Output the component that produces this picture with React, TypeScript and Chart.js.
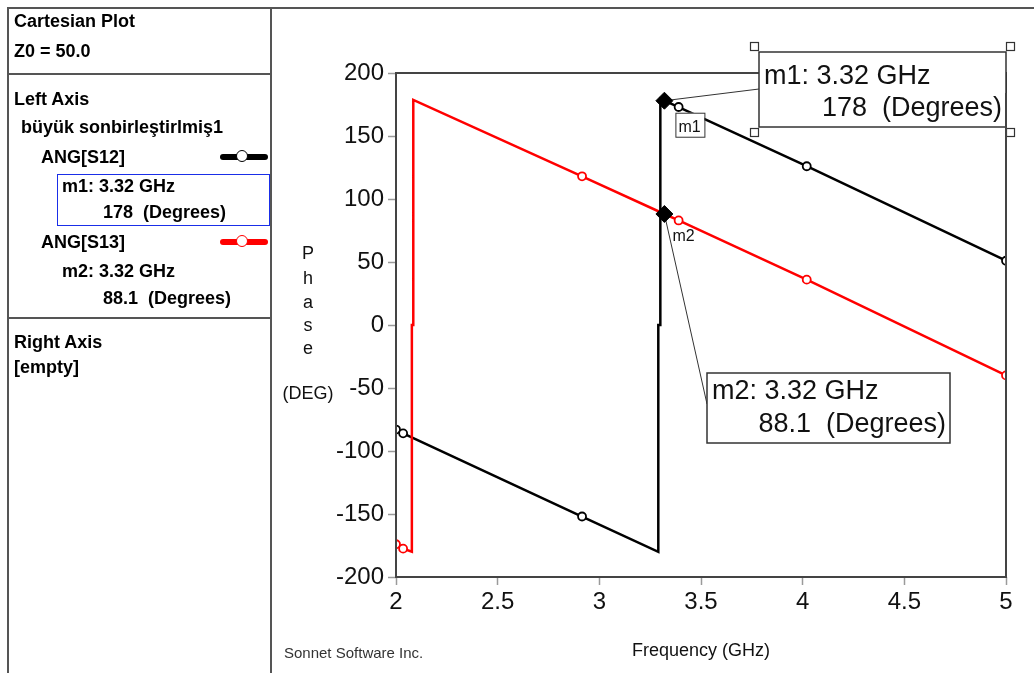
import React, { useEffect, useRef } from "react";
import { Chart, registerables } from "chart.js";

Chart.register(...registerables);

// ---- data ----
const s12Freq = [2.0, 2.035, 2.915, 3.29, 3.29, 3.3, 3.3, 3.32, 3.39, 4.02, 5.0];
const s12Phase = [-83, -86, -152, -180, 0, 0, 179.5, 178, 173, 126, 51];
const s13Freq = [2.0, 2.035, 2.078, 2.078, 2.085, 2.085, 2.915, 3.32, 3.39, 4.02, 5.0];
const s13Phase = [-174, -177.5, -180, 0, 0, 178.6, 118, 88.1, 83, 36, -40];
const circleFreqs = [2.0, 2.035, 2.915, 3.39, 4.02, 5.0];
const markerNames = ["m1", "m2"];
const markerFreq = [3.32, 3.32];
const markerPhase = [178, 88.1];
const xTickValues = [2, 2.5, 3, 3.5, 4, 4.5, 5];
const yTickValues = [-200, -150, -100, -50, 0, 50, 100, 150, 200];

const FONT = "'Liberation Sans', Arial, sans-serif";

const annotPlugin = {
  id: "annot",
  beforeDatasetsDraw(chart: any) {
    const ctx = chart.ctx;
    const xs = chart.scales.x;
    const ys = chart.scales.y;
    ctx.save();
    ctx.strokeStyle = "#333";
    ctx.lineWidth = 1;
    const m1x = xs.getPixelForValue(markerFreq[0]);
    const m1y = ys.getPixelForValue(markerPhase[0]);
    ctx.beginPath();
    ctx.moveTo(m1x, m1y);
    ctx.lineTo(759, 89);
    ctx.stroke();
    const m2x = xs.getPixelForValue(markerFreq[1]);
    const m2y = ys.getPixelForValue(markerPhase[1]);
    ctx.beginPath();
    ctx.moveTo(m2x, m2y);
    ctx.lineTo(707, 404);
    ctx.stroke();
    ctx.restore();
  },
  afterDatasetsDraw(chart: any) {
    const ctx = chart.ctx;
    const a = chart.chartArea;
    const xs = chart.scales.x;
    const ys = chart.scales.y;
    ctx.save();
    // plot frame
    ctx.strokeStyle = "#444";
    ctx.lineWidth = 2;
    ctx.strokeRect(a.left, a.top, a.right - a.left, a.bottom - a.top);

    // small m1 label box
    const m1x = xs.getPixelForValue(markerFreq[0]);
    const m1y = ys.getPixelForValue(markerPhase[0]);
    ctx.fillStyle = "#fff";
    ctx.fillRect(m1x + 11, m1y + 12, 29, 24);
    ctx.strokeStyle = "#333";
    ctx.lineWidth = 1;
    ctx.strokeRect(m1x + 11.5, m1y + 12.5, 29, 24);
    ctx.fillStyle = "#111";
    ctx.font = `16px ${FONT}`;
    ctx.textBaseline = "alphabetic";
    ctx.textAlign = "left";
    ctx.fillText(markerNames[0], m1x + 14, m1y + 31);

    const m2x = xs.getPixelForValue(markerFreq[1]);
    const m2y = ys.getPixelForValue(markerPhase[1]);
    ctx.fillText(markerNames[1], m2x + 8, m2y + 27);

    const drawBox = (l: number, t: number, r: number, b: number, l1: string, l2: string, b1: number, b2: number, handles: boolean) => {
      ctx.fillStyle = "#fff";
      ctx.fillRect(l, t, r - l, b - t);
      ctx.strokeStyle = "#333";
      ctx.lineWidth = 1.5;
      ctx.strokeRect(l, t, r - l, b - t);
      ctx.fillStyle = "#111";
      ctx.font = `27px ${FONT}`;
      ctx.textAlign = "left";
      ctx.fillText(l1, l + 5, b1);
      ctx.textAlign = "right";
      ctx.fillText(l2, r - 4, b2);
      if (handles) {
        ctx.fillStyle = "#fff";
        ctx.strokeStyle = "#333";
        ctx.lineWidth = 1.2;
        const hs = 8;
        const pts = [
          [l - hs - 1, t - hs - 2],
          [r + 0, t - hs - 2],
          [l - hs - 1, b + 1],
          [r + 0, b + 1],
        ];
        pts.forEach(([px, py]) => {
          ctx.fillRect(px, py, hs, hs);
          ctx.strokeRect(px + 0.5, py + 0.5, hs, hs);
        });
      }
    };
    drawBox(759, 52, 1006, 127, `${markerNames[0]}: ${markerFreq[0].toFixed(2)} GHz`, `${markerPhase[0]}  (Degrees)`, 84, 116, true);
    drawBox(707, 373, 950, 443, `${markerNames[1]}: ${markerFreq[1].toFixed(2)} GHz`, `${markerPhase[1]}  (Degrees)`, 399, 432, false);

    // redraw right frame edge over box
    ctx.strokeStyle = "#444";
    ctx.lineWidth = 2;
    ctx.beginPath();
    ctx.moveTo(a.right, a.top + 20);
    ctx.lineTo(a.right, a.bottom);
    ctx.stroke();

    // y title letters
    ctx.fillStyle = "#111";
    ctx.font = `18px ${FONT}`;
    ctx.textAlign = "center";
    ctx.textBaseline = "middle";
    const letters = ["P", "h", "a", "s", "e"];
    const ly = [254, 279, 303, 326, 349];
    letters.forEach((c, i) => ctx.fillText(c, 308, ly[i]));
    ctx.fillText("(DEG)", 308, 394);

    // footer
    ctx.fillStyle = "#333";
    ctx.font = `15px ${FONT}`;
    ctx.textAlign = "left";
    ctx.fillText("Sonnet Software Inc.", 284, 654);
    ctx.restore();
  },
};

function ChartCanvas() {
  const ref = useRef<HTMLCanvasElement | null>(null);
  useEffect(() => {
    if (!ref.current) return;
    const tickFont = { family: FONT, size: 24 };
    const chart = new Chart(ref.current, {
      type: "scatter",
      data: {
        datasets: [
          {
            label: "markers",
            data: markerFreq.map((f, i) => ({ x: f, y: markerPhase[i] })),
            pointStyle: "rectRot",
            pointRadius: 8.5,
            pointBackgroundColor: "#000",
            pointBorderColor: "#000",
            pointBorderWidth: 1,
            showLine: false,
            clip: 10,
          },
          {
            label: "ANG[S13]",
            data: s13Freq.map((f, i) => ({ x: f, y: s13Phase[i] })),
            showLine: true,
            borderColor: "#ff0000",
            borderWidth: 2.5,
            pointRadius: (c: any) => (c.raw && circleFreqs.includes(c.raw.x) ? 4 : 0),
            pointBackgroundColor: "#fff",
            pointBorderColor: "#ff0000",
            pointBorderWidth: 1.8,
            tension: 0,
            clip: 0,
          },
          {
            label: "ANG[S12]",
            data: s12Freq.map((f, i) => ({ x: f, y: s12Phase[i] })),
            showLine: true,
            borderColor: "#000",
            borderWidth: 2.5,
            pointRadius: (c: any) => (c.raw && circleFreqs.includes(c.raw.x) ? 4 : 0),
            pointBackgroundColor: "#fff",
            pointBorderColor: "#000",
            pointBorderWidth: 1.8,
            tension: 0,
            clip: 0,
          },
        ],
      },
      options: {
        animation: false,
        responsive: false,
        maintainAspectRatio: false,
        devicePixelRatio: 1,
        events: [],
        layout: { padding: { left: 280, right: 28, top: 73, bottom: 0 } },
        plugins: { legend: { display: false }, tooltip: { enabled: false } },
        scales: {
          x: {
            type: "linear",
            min: 2,
            max: 5,
            afterBuildTicks: (s: any) => {
              s.ticks = xTickValues.map((v) => ({ value: v }));
            },
            afterFit: (s: any) => {
              s.height = 96;
            },
            ticks: {
              font: tickFont,
              color: "#111",
              padding: 3,
              maxRotation: 0,
              autoSkip: false,
              callback: (v: any) => String(v),
            },
            grid: {
              drawOnChartArea: false,
              drawTicks: true,
              tickLength: 8,
              tickColor: "#9a9a9a",
              tickWidth: 1.5,
            },
            border: { display: false },
            title: {
              display: true,
              text: "Frequency (GHz)",
              font: { family: FONT, size: 18 },
              color: "#111",
              padding: { top: 0, bottom: 11 },
            },
          },
          y: {
            type: "linear",
            min: -200,
            max: 200,
            afterBuildTicks: (s: any) => {
              s.ticks = yTickValues.map((v) => ({ value: v }));
            },
            afterFit: (s: any) => {
              s.width = 116;
            },
            ticks: {
              font: tickFont,
              color: "#111",
              padding: 4,
              autoSkip: false,
              callback: (v: any) => String(v),
            },
            grid: {
              drawOnChartArea: false,
              drawTicks: true,
              tickLength: 8,
              tickColor: "#9a9a9a",
              tickWidth: 1.5,
            },
            border: { display: false },
          },
        },
      },
      plugins: [annotPlugin],
    } as any);
    return () => chart.destroy();
  }, []);
  return (
    <canvas
      ref={ref}
      width={1034}
      height={673}
      style={{ position: "absolute", left: 0, top: 0, width: 1034, height: 673 }}
    />
  );
}

const txt = (x: number, cy: number, s: string) => (
  <div
    key={s + cy}
    style={{
      position: "absolute",
      left: x,
      top: cy - 10,
      height: 20,
      lineHeight: "20px",
      fontFamily: FONT,
      fontWeight: "bold",
      fontSize: 18,
      color: "#000",
      whiteSpace: "pre",
    }}
  >
    {s}
  </div>
);

const Legend = ({ y, color }: { y: number; color: string }) => (
  <>
    <div style={{ position: "absolute", left: 220, top: y - 3, width: 48, height: 6, background: color, borderRadius: 3 }} />
    <div
      style={{
        position: "absolute",
        left: 236,
        top: y - 7,
        width: 12,
        height: 12,
        borderRadius: "50%",
        background: "#fff",
        border: `1.5px solid ${color}`,
        boxSizing: "border-box",
      }}
    />
  </>
);

export default function App() {
  const line = "#555";
  return (
    <div style={{ position: "fixed", left: 0, top: 0, width: 1034, height: 673, background: "#fff", overflow: "hidden" }}>
      <ChartCanvas />
      <div style={{ position: "absolute", left: 7, top: 7, width: 1040, height: 2, background: line }} />
      <div style={{ position: "absolute", left: 7, top: 7, width: 2, height: 680, background: line }} />
      <div style={{ position: "absolute", left: 270, top: 7, width: 2, height: 680, background: line }} />
      <div style={{ position: "absolute", left: 7, top: 73, width: 265, height: 2, background: line }} />
      <div style={{ position: "absolute", left: 7, top: 317, width: 265, height: 2, background: line }} />
      {txt(14, 21, "Cartesian Plot")}
      {txt(14, 51, "Z0 = 50.0")}
      {txt(14, 99, "Left Axis")}
      {txt(21, 127, "büyük sonbirleştirlmiş1")}
      {txt(41, 157, "ANG[S12]")}
      <Legend y={157} color="#000" />
      <div style={{ position: "absolute", left: 57, top: 174, width: 211, height: 50, border: "1px solid #1a2ee8" }} />
      {txt(62, 186, `${markerNames[0]}: ${markerFreq[0].toFixed(2)} GHz`)}
      {txt(103, 212, `${markerPhase[0]}  (Degrees)`)}
      {txt(41, 242, "ANG[S13]")}
      <Legend y={242} color="#ff0000" />
      {txt(62, 271, `${markerNames[1]}: ${markerFreq[1].toFixed(2)} GHz`)}
      {txt(103, 298, `${markerPhase[1]}  (Degrees)`)}
      {txt(14, 342, "Right Axis")}
      {txt(14, 367, "[empty]")}
    </div>
  );
}
